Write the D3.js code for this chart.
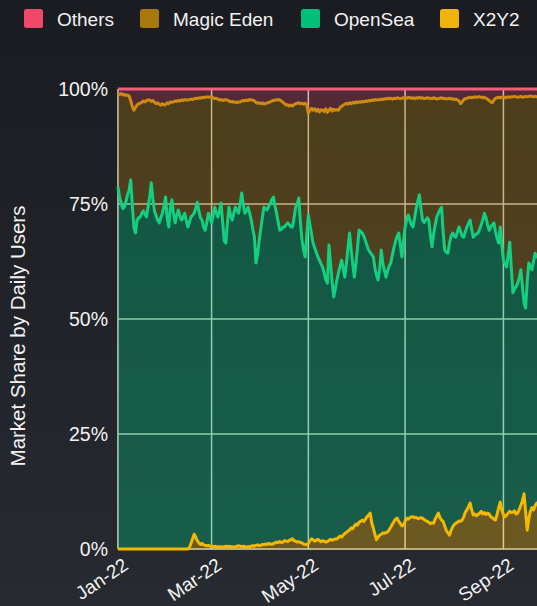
<!DOCTYPE html>
<html>
<head>
<meta charset="utf-8">
<script src="https://cdn.jsdelivr.net/npm/d3@7"></script>
<style>
  html, body { margin: 0; padding: 0; overflow: hidden; background: #1c1e24; }
  svg { display: block; font-family: "Liberation Sans", Arial, sans-serif; }
</style>
</head>
<body>
<div id="chart"></div>
<script>
// daily market share by users, starting 2022-01-01 (percent)
const startDate = "2022-01-01";

const x2y2 = [
  0,0,0,0,0,0,0,0,0,0,
  0,0,0,0,0,0,0,0,0,0,
  0,0,0,0,0,0,0,0,0,0,
  0,0,0,0,0,0,0,0,0,0,
  0,0,0,0,0,0.3,1.2,2.2,3.2,2.6,
  1.8,1.3,1.0,1.2,0.9,0.8,0.7,0.8,0.6,0.6,
  0.5,0.6,0.5,0.5,0.4,0.5,0.4,0.5,0.6,0.5,
  0.6,0.5,0.5,0.4,0.5,0.6,0.7,0.6,0.5,0.6,
  0.5,0.4,0.5,0.5,0.6,0.7,0.6,0.8,0.9,0.7,
  0.8,1.0,0.9,1.1,1.0,1.2,1.1,1.0,1.2,1.3,
  1.5,1.4,1.6,1.4,1.5,1.8,1.7,1.6,1.9,2.0,
  2.2,1.8,1.7,1.5,1.6,1.4,1.3,1.1,1.0,0.9,
  1.2,1.8,2.2,2.0,1.7,1.9,2.1,1.8,1.6,1.8,
  1.7,1.5,1.6,1.9,2.1,1.9,2.0,2.2,2.2,2.5,
  2.8,2.6,3.0,3.4,3.6,3.9,4.1,4.6,4.4,5.0,
  5.4,5.2,5.8,6.0,6.3,6.0,6.5,7.0,7.4,7.8,
  5.7,4.5,3.2,2.0,2.6,3.0,3.2,3.5,3.4,3.6,
  3.7,4.2,4.8,5.4,6.0,6.5,6.7,6.0,5.5,5.0,
  5.2,6.0,6.7,6.5,6.8,7.0,7.0,6.8,6.9,6.6,
  6.7,6.8,6.7,6.4,6.2,6.0,5.8,5.5,5.7,5.6,
  6.5,7.2,7.8,6.8,6.3,6.0,5.0,4.0,3.5,3.0,
  4.0,4.8,5.3,5.6,5.8,6.1,6.0,6.3,7.0,8.0,
  8.5,9.2,10.0,8.5,7.4,7.6,7.2,7.5,7.8,8.2,
  7.6,7.9,7.5,7.8,7.6,7.0,6.8,6.5,6.3,7.5,
  9.0,10.2,8.5,7.5,7.0,7.4,7.8,8.2,7.9,8.0,
  8.3,7.6,7.8,8.6,9.5,10.5,12.0,8.0,4.1,6.5,
  8.2,9.0,8.5,9.4,10.0,9.8
];

const opensea = [
  78.7,76.5,75.2,74.0,74.3,75.5,77.0,78.0,80.2,75.0,
  70.0,68.7,71.5,72.0,72.2,73.0,73.5,72.8,72.2,74.5,
  76.5,79.6,76.0,73.5,72.5,71.5,70.9,72.0,73.0,74.5,
  76.5,72.0,70.0,74.0,75.9,73.0,70.9,72.5,73.7,72.5,
  71.5,72.0,73.0,71.5,70.0,70.7,71.0,70.3,69.8,71.4,
  73.6,72.2,71.0,70.3,69.1,68.5,70.3,72.2,71.4,70.3,
  72.0,73.7,72.5,71.7,73.1,74.7,70.6,66.5,65.9,70.5,
  73.7,72.0,71.0,72.6,73.8,72.9,72.3,74.4,76.9,74.4,
  72.5,73.1,73.8,72.5,70.9,68.8,67.2,61.4,63.1,66.3,
  68.7,71.0,73.4,72.9,72.7,73.3,74.1,75.0,75.3,73.2,
  71.5,69.6,67.7,68.1,68.5,68.2,68.8,69.3,68.6,68.0,
  67.8,70.2,72.6,73.5,74.7,69.6,65.9,63.9,62.5,67.1,
  71.4,68.7,66.3,64.5,63.8,62.6,61.4,61.0,60.4,59.5,
  58.3,57.0,56.2,64.2,60.1,56.1,52.8,54.3,56.3,57.5,
  58.7,60.2,58.0,55.7,58.4,61.6,64.6,60.4,57.6,54.1,
  56.6,60.3,63.5,63.0,62.4,62.0,60.5,59.0,57.6,56.7,
  58.3,59.0,57.8,57.5,55.9,58.0,61.8,58.5,57.1,55.5,
  56.8,57.3,57.4,58.6,59.5,60.5,61.3,62.7,60.5,58.5,
  61.8,64.0,64.8,66.1,64.7,63.5,63.0,65.2,67.1,68.9,
  70.3,67.2,64.8,64.6,65.3,66.0,65.7,62.5,60.0,62.9,
  64.0,65.0,65.2,67.0,68.0,63.0,60.0,60.5,60.8,63.5,
  64.0,63.9,62.7,62.2,63.2,63.9,63.0,61.7,60.8,61.0,
  61.5,61.6,61.5,61.0,60.4,60.6,61.3,61.2,61.7,62.3,
  63.9,65.1,64.5,62.7,61.7,63.0,63.7,64.4,62.7,60.0,
  57.5,59.8,57.5,55.3,55.0,53.9,56.2,58.5,53.1,47.7,
  48.2,49.4,50.0,50.4,51.2,46.5,41.5,44.4,53.9,55.7,
  53.3,51.7,54.0,54.9,53.5,54.2
];

const magicEden = [
  20.3,22.3,23.8,24.7,24.5,23.1,21.7,20.5,17.3,21.2,
  25.4,27.3,25.0,24.8,24.7,24.1,23.9,24.4,25.3,23.1,
  21.1,17.7,21.5,23.6,24.3,25.5,25.8,24.5,23.8,22.0,
  20.1,25.0,26.8,23.2,21.2,24.2,26.5,24.8,23.8,24.9,
  26.1,25.5,24.7,26.1,27.6,26.7,25.6,25.2,24.9,24.0,
  22.5,24.6,26.0,26.7,28.1,28.9,27.3,25.2,26.3,27.4,
  25.6,23.6,25.0,25.6,24.1,22.5,26.5,30.6,31.2,26.6,
  23.1,24.7,25.8,24.1,22.9,23.5,24.2,22.2,20.0,22.5,
  24.4,24.1,23.2,24.7,26.1,28.1,29.6,34.9,32.9,30.0,
  27.3,25.0,22.4,22.9,23.2,22.6,22.0,21.4,21.0,23.1,
  24.6,26.7,28.3,27.9,27.1,26.8,26.0,25.7,25.8,26.5,
  26.3,24.6,22.5,21.9,20.7,25.8,29.7,31.7,33.4,28.5,
  22.2,24.9,27.3,28.9,30.2,30.7,32.1,32.2,33.5,34.1,
  35.1,37.2,37.1,29.3,33.6,37.2,40.8,38.9,37.0,35.4,
  34.5,33.4,35.5,37.6,34.9,31.2,28.3,31.8,35.1,37.8,
  35.2,31.5,27.9,28.1,28.6,29.2,30.4,31.3,32.5,32.9,
  33.6,34.0,36.7,38.1,39.2,36.6,32.8,35.7,37.4,38.7,
  37.5,36.4,35.8,33.8,32.5,30.9,30.1,29.3,31.9,34.5,
  31.1,28.0,26.5,25.6,26.6,27.5,28.1,25.9,24.1,22.5,
  21.2,24.0,26.6,26.9,26.5,26.1,26.5,30.0,32.2,29.6,
  27.5,25.6,24.9,24.2,23.8,28.9,33.0,33.3,33.6,31.5,
  29.8,29.2,29.7,30.0,28.6,27.4,27.8,29.2,29.9,28.9,
  28.0,27.3,26.7,28.6,30.4,30.1,29.7,29.6,28.8,27.7,
  26.6,25.2,26.0,27.3,28.2,27.2,26.5,26.7,29.0,30.6,
  31.7,28.1,32.2,35.5,36.1,36.9,34.3,31.5,37.3,42.6,
  41.9,41.3,40.4,39.3,37.7,41.2,44.8,46.0,40.3,36.2,
  37.0,37.7,35.8,34.1,34.8,34.4
];

const others = [
  1.0,1.2,1.0,1.3,1.2,1.4,1.3,1.5,2.5,3.8,
  4.6,4.0,3.5,3.2,3.1,2.9,2.6,2.8,2.5,2.4,
  2.4,2.7,2.5,2.9,3.2,3.0,3.3,3.5,3.2,3.5,
  3.4,3.0,3.2,2.8,2.9,2.8,2.6,2.7,2.5,2.6,
  2.4,2.5,2.3,2.4,2.4,2.3,2.2,2.3,2.1,2.0,
  2.1,1.9,2.0,1.8,1.9,1.8,1.7,1.8,1.7,1.7,
  1.9,2.1,2.0,2.2,2.4,2.3,2.5,2.4,2.3,2.4,
  2.6,2.8,2.7,2.9,2.8,3.0,2.8,2.8,2.6,2.5,
  2.6,2.4,2.5,2.3,2.4,2.4,2.6,2.9,3.1,3.0,
  3.2,3.0,3.3,3.1,3.1,2.9,2.8,2.6,2.5,2.4,
  2.4,2.3,2.4,2.6,2.9,3.2,3.5,3.4,3.7,3.5,
  3.7,3.4,3.2,3.1,3.0,3.2,3.1,3.3,3.1,3.5,
  5.2,4.6,4.2,4.6,4.3,4.8,4.4,5.0,4.5,4.6,
  4.9,4.3,5.1,4.6,4.2,4.8,4.4,4.6,4.5,4.6,
  4.0,3.8,3.5,3.3,3.1,3.3,3.0,3.2,2.9,3.1,
  2.8,3.0,2.8,2.9,2.7,2.8,2.6,2.7,2.5,2.6,
  2.4,2.5,2.3,2.4,2.3,2.4,2.2,2.3,2.1,2.2,
  2.0,2.1,2.0,2.2,2.0,2.1,1.9,2.0,2.1,2.0,
  1.9,2.0,2.0,1.8,1.9,2.0,1.9,2.1,1.9,2.0,
  1.8,2.0,1.9,2.1,2.0,1.9,2.0,2.0,2.1,1.9,
  2.0,2.2,2.1,2.0,1.9,2.1,2.0,2.2,2.1,2.0,
  2.2,2.1,2.3,2.2,2.4,2.6,3.2,2.8,2.3,2.1,
  2.0,1.9,1.8,1.9,1.8,1.7,1.8,1.7,1.7,1.8,
  1.9,1.8,2.0,2.2,2.5,2.8,3.0,2.4,2.0,1.9,
  1.8,1.9,1.8,1.7,1.9,1.8,1.7,1.8,1.7,1.7,
  1.6,1.7,1.8,1.7,1.6,1.8,1.7,1.6,1.7,1.6,
  1.5,1.6,1.7,1.6,1.7,1.6
];

const legendNames = ["Others", "Magic Eden", "OpenSea", "X2Y2"];
const stackKeys = ["X2Y2", "OpenSea", "Magic Eden", "Others"];
const yTicks = [0, 0.25, 0.5, 0.75, 1];

// colours
const fillColor = { "Others": "#f2496b", "Magic Eden": "#a8780e", "OpenSea": "#00c07a", "X2Y2": "#f0b30a" };
const fillOpacity = { "Others": 0.26, "Magic Eden": 0.35, "OpenSea": 0.35, "X2Y2": 0.35 };
const lineColor = { "Others": "#f0607c", "Magic Eden": "#cf8a12", "OpenSea": "#12cf82", "X2Y2": "#f5b800" };

const width = 537;
const height = 606;

var start = d3.utcParse("%Y-%m-%d")(startDate);
var rows = x2y2.map(function (v, i) {
  return {
    date: d3.utcDay.offset(start, i),
    "X2Y2": v,
    "OpenSea": opensea[i],
    "Magic Eden": magicEden[i],
    "Others": others[i]
  };
});

var svg = d3.select("#chart").append("svg")
  .attr("width", width)
  .attr("height", height);

// fond en dégradé
var grad = svg.append("defs").append("linearGradient")
  .attr("id", "bg").attr("x1", 0).attr("y1", 0).attr("x2", 0).attr("y2", 1);
grad.append("stop").attr("offset", "0%").attr("stop-color", "#1a1c21");
grad.append("stop").attr("offset", "100%").attr("stop-color", "#272a31");
svg.append("rect").attr("width", width).attr("height", height).attr("fill", "url(#bg)");

// scales
var x = d3.scaleUtc()
  .domain([start, d3.utcDay.offset(start, 273)])
  .range([118, 551]);
var y = d3.scaleLinear().domain([0, 1]).range([549, 89]);

var xTicks = x.ticks(d3.utcMonth.every(2));

// grid (sous les aires transparentes)
var grid = svg.append("g").attr("stroke", "#d8d8c8").attr("stroke-width", 1.5);
grid.selectAll(".h").data(yTicks).enter().append("line")
  .attr("x1", x.range()[0]).attr("x2", x.range()[1])
  .attr("y1", function (d) { return y(d); })
  .attr("y2", function (d) { return y(d); });
grid.selectAll(".v").data(xTicks).enter().append("line")
  .attr("x1", function (d) { return x(d); })
  .attr("x2", function (d) { return x(d); })
  .attr("y1", y(1)).attr("y2", y(0));

// stack
var stack = d3.stack()
  .keys(stackKeys)
  .order(d3.stackOrderNone)
  .offset(d3.stackOffsetExpand);
var series = stack(rows);

var area = d3.area()
  .x(function (d) { return x(d.data.date); })
  .y0(function (d) { return y(d[0]); })
  .y1(function (d) { return y(d[1]); });

var line = d3.line()
  .x(function (d) { return x(d.data.date); })
  .y(function (d) { return y(d[1]); });

svg.append("g").selectAll("path").data(series).enter().append("path")
  .attr("d", area)
  .attr("fill", function (d) { return fillColor[d.key]; })
  .attr("fill-opacity", function (d) { return fillOpacity[d.key]; });

svg.append("g").selectAll("path").data(series).enter().append("path")
  .attr("d", line)
  .attr("fill", "none")
  .attr("stroke", function (d) { return lineColor[d.key]; })
  .attr("stroke-width", 3)
  .attr("stroke-linejoin", "round");

// axes
var yAxis = svg.append("g")
  .attr("transform", "translate(118,0)")
  .call(d3.axisLeft(y).tickValues(yTicks).tickFormat(d3.format(".0%")).tickSize(0).tickPadding(10));
yAxis.select(".domain").remove();
yAxis.selectAll("text")
  .attr("fill", "#f2f2f2")
  .style("font-size", "19.5px")
  .style("font-family", "'Liberation Sans', Arial, sans-serif");

var xAxis = svg.append("g")
  .attr("transform", "translate(0,549)")
  .call(d3.axisBottom(x).tickValues(xTicks).tickFormat(d3.utcFormat("%b-%y")).tickSize(0));
xAxis.select(".domain").remove();
xAxis.selectAll("text")
  .attr("y", 0)
  .attr("dy", 0)
  .attr("text-anchor", "end")
  .attr("transform", "translate(11,19) rotate(-34)")
  .attr("fill", "#f2f2f2")
  .style("font-size", "19px")
  .style("font-family", "'Liberation Sans', Arial, sans-serif");

// titre de l'axe y
svg.append("text")
  .attr("transform", "translate(25,336) rotate(-90)")
  .attr("text-anchor", "middle")
  .attr("fill", "#f2f2f2")
  .style("font-size", "20.5px")
  .text("Market Share by Daily Users");

// légende
var legendX = [24, 140, 301, 440];
var leg = svg.append("g").selectAll("g").data(legendNames).enter().append("g")
  .attr("transform", function (d, i) { return "translate(" + legendX[i] + ",9)"; });
leg.append("rect")
  .attr("width", 19).attr("height", 19).attr("rx", 2.5)
  .attr("fill", function (d) { return fillColor[d]; });
leg.append("text")
  .attr("x", 33).attr("y", 16.5)
  .attr("fill", "#f2f2f2")
  .style("font-size", "19px")
  .text(function (d) { return d; });
</script>
</body>
</html>
